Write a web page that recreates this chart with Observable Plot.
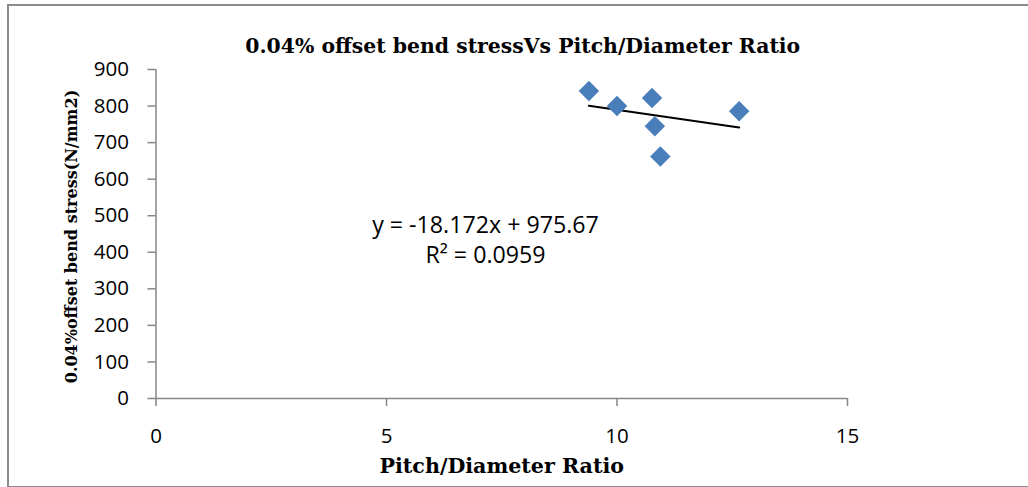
<!DOCTYPE html>
<html>
<head>
<meta charset="utf-8">
<script src="https://cdn.jsdelivr.net/npm/d3@7"></script>
<script src="https://cdn.jsdelivr.net/npm/@observablehq/plot@0.6"></script>
<style>
  html, body { margin: 0; padding: 0; background: #fff; }
  #wrap { position: relative; width: 1028px; height: 487px; overflow: hidden; }
  #border { position: absolute; left: 7px; top: 4px; width: 1040px; height: 484px; border: 2px solid #8c8c8c; box-sizing: border-box; }
  #chart { position: absolute; left: 0; top: 0; }
</style>
</head>
<body>
<div id="wrap"><div id="border"></div><div id="chart"></div></div>
<script>
const titleText = "0.04% offset bend stressVs Pitch/Diameter Ratio";
const xLabel = "Pitch/Diameter Ratio";
const yLabel = "0.04%offset bend stress(N/mm2)";
const pitchDiameter = [9.39, 10.0, 10.76, 10.82, 10.94, 12.65];
const bendStress = [841, 800, 822, 745, 662, 786];
const xTicks = [0, 5, 10, 15];
const yTicks = [0, 100, 200, 300, 400, 500, 600, 700, 800, 900];
const equationLines = ["y = -18.172x + 975.67", "R² = 0.0959"];

const data = pitchDiameter.map((x, i) => ({x, y: bendStress[i]}));
const axisGray = "#868686";
const serif = "'DejaVu Serif', serif";

const chart = Plot.plot({
  width: 1028,
  height: 487,
  marginLeft: 155.5,
  marginRight: 181,
  marginTop: 69,
  marginBottom: 89,
  style: {fontFamily: "'Open Sans', sans-serif", fontSize: "20px", color: "#000", background: "transparent", overflow: "visible"},
  x: {domain: [0, 15]},
  y: {domain: [0, 900]},
  marks: [
    Plot.ruleY([0], {stroke: axisGray, strokeWidth: 1.5}),
    Plot.ruleX([0], {stroke: axisGray, strokeWidth: 1.5}),
    Plot.axisX({ticks: xTicks, tickSize: 8, tickPadding: 22, stroke: axisGray, strokeWidth: 1.5, label: null, fill: "#000", fontSize: 20.5}),
    Plot.axisY({ticks: yTicks, tickSize: 8, tickPadding: 19, stroke: axisGray, strokeWidth: 1.5, label: null, fill: "#000", fontSize: 20.5}),
    Plot.linearRegressionY(data, {x: "x", y: "y", ci: 0, stroke: "#000", strokeWidth: 2}),
    Plot.dot(data, {x: "x", y: "y", symbol: "diamond2", r: 9, fill: "#4a7ebb", stroke: "#4a7ebb", strokeWidth: 0.5}),
    Plot.text([titleText], {frameAnchor: "top", dx: 21, dy: -31, fontFamily: serif, fontWeight: "bold", fontSize: 20.4, fill: "#000"}),
    Plot.text([xLabel], {frameAnchor: "bottom", dy: 74, fontFamily: serif, fontWeight: "bold", fontSize: 20.6, fill: "#000"}),
    Plot.text([yLabel], {frameAnchor: "left", textAnchor: "middle", rotate: -90, dx: -84, dy: 2.5, fontFamily: serif, fontWeight: "bold", fontSize: 16, fill: "#000"}),
    Plot.text([equationLines[0]], {frameAnchor: "top-left", textAnchor: "middle", dx: 329.5, dy: 147, fontSize: 23.2, fill: "#000"}),
    Plot.text([equationLines[1]], {frameAnchor: "top-left", textAnchor: "middle", dx: 329.5, dy: 177, fontSize: 23.2, fill: "#000"})
  ]
});
document.getElementById("chart").appendChild(chart);
</script>
</body>
</html>
